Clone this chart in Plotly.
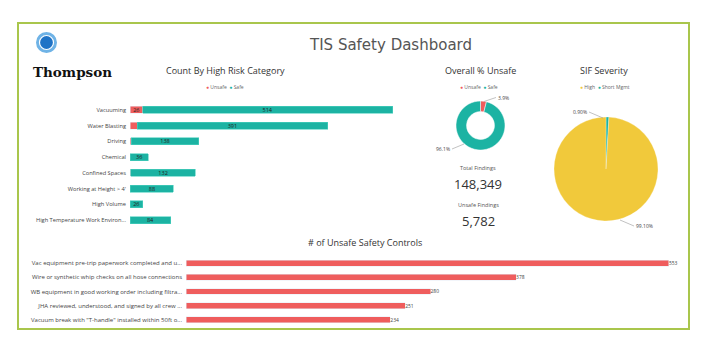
import plotly.graph_objects as go

W, H = 710, 355
OFF = 8  # default page body margin
def X(px): return (px - OFF) / W
def Y(py): return 1 - (py - OFF) / H

# ---------------- data ----------------
risk_categories = ["Vacuuming", "Water Blasting", "Driving", "Chemical", "Confined Spaces",
                   "Working at Height > 4'", "High Volume", "High Temperature Work Environ..."]
risk_unsafe = [26, 15, 3, 1, 2, 1, 0, 0]
risk_safe = [514, 391, 138, 36, 132, 88, 26, 84]

overall_labels = ["Unsafe", "Safe"]
total_findings = 148349
unsafe_findings = 5782
overall_values = [unsafe_findings, total_findings - unsafe_findings]

sif_labels = ["Short Mgmt", "High"]
sif_values = [0.90, 99.10]

control_categories = ["Vac equipment pre-trip paperwork completed and u...",
                      "Wire or synthetic whip checks on all hose connections",
                      "WB equipment in good working order including filtra...",
                      "JHA reviewed, understood, and signed by all crew ...",
                      "Vacuum break with \"T-handle\" installed within 50ft o..."]
control_counts = [553, 378, 280, 251, 234]

RED = "#ef5d5d"
TEAL = "#1cb3a3"
YELLOW = "#f1c93b"
FONT = "Open Sans"

fig = go.Figure()

# ---------------- top stacked bars ----------------
fig.add_trace(go.Bar(
    y=risk_categories, x=risk_unsafe, orientation="h", name="Unsafe",
    marker=dict(color=RED), width=0.45,
    text=[str(v) if v >= 20 else "" for v in risk_unsafe],
    textposition="inside", insidetextanchor="middle", constraintext="none", textangle=0,
    textfont=dict(size=5.5, color="#222", family=FONT),
    xaxis="x", yaxis="y", showlegend=False, hoverinfo="x+y"))
fig.add_trace(go.Bar(
    y=risk_categories, x=risk_safe, orientation="h", name="Safe",
    marker=dict(color=TEAL, line=dict(color="#4fd0c0", width=0.6)), width=0.45,
    text=[str(v) for v in risk_safe],
    textposition="inside", insidetextanchor="middle", constraintext="none", textangle=0,
    textfont=dict(size=5.5, color="#222", family=FONT),
    xaxis="x", yaxis="y", showlegend=False, hoverinfo="x+y"))

# ---------------- bottom bars ----------------
fig.add_trace(go.Bar(
    y=control_categories, x=control_counts, orientation="h",
    marker=dict(color=RED), width=0.42,
    text=[str(v) for v in control_counts], textposition="outside",
    textfont=dict(size=5, color="#444", family=FONT), cliponaxis=False,
    xaxis="x2", yaxis="y2", showlegend=False))

# ---------------- donut ----------------
cx, cy, r = 480.5, 125.5, 24.5
fig.add_trace(go.Pie(
    labels=overall_labels, values=overall_values, hole=0.57, sort=False,
    direction="clockwise", rotation=0, textinfo="none",
    marker=dict(colors=[RED, TEAL], line=dict(color="white", width=0.5)),
    domain=dict(x=[X(cx - r), X(cx + r)], y=[Y(cy + r), Y(cy - r)]),
    showlegend=False))

# ---------------- SIF pie ----------------
sx, sy, sr = 606, 169, 52
fig.add_trace(go.Pie(
    labels=sif_labels, values=sif_values, sort=False,
    direction="counterclockwise", rotation=0, textinfo="none",
    marker=dict(colors=[TEAL, YELLOW], line=dict(color="white", width=0.3)),
    domain=dict(x=[X(sx - sr), X(sx + sr)], y=[Y(sy + sr), Y(sy - sr)]),
    showlegend=False))

ov_pct = [v / sum(overall_values) * 100 for v in overall_values]
sif_pct = [v / sum(sif_values) * 100 for v in sif_values]

annotations = []
def txt(x, y, s, size, color="#444", family=FONT, xanchor="center"):
    annotations.append(dict(x=X(x), y=Y(y), xref="paper", yref="paper", text=s,
                            showarrow=False, xanchor=xanchor, yanchor="middle",
                            font=dict(size=size, color=color, family=family)))

txt(391, 45, "TIS Safety Dashboard", 15, "#555", "DejaVu Sans")
txt(72, 72, "<b>Thompson</b>", 13.5, "#111", "DejaVu Serif")
txt(225, 71, "Count By High Risk Category", 9, "#333")
txt(480, 71, "Overall % Unsafe", 9, "#333")
txt(604, 71, "SIF Severity", 9, "#333")
txt(365, 242, "# of Unsafe Safety Controls", 9, "#333")

leg = lambda items: "  ".join(f"<span style='color:{c}'>●</span> {t}" for t, c in items)
txt(225, 87, leg([("Unsafe", RED), ("Safe", TEAL)]), 5, "#666")
txt(479, 87, leg([("Unsafe", RED), ("Safe", TEAL)]), 5, "#666")
txt(605, 87, leg([("High", YELLOW), (sif_labels[0], TEAL)]), 5, "#666")

txt(478, 168, "Total Findings", 5.5, "#555")
txt(478, 184, f"{total_findings:,}", 13, "#333")
txt(478, 205, "Unsafe Findings", 5.5, "#555")
txt(478, 221, f"{unsafe_findings:,}", 13, "#333")

def lead(px, py, s, ax, ay, xanchor):
    annotations.append(dict(x=X(px), y=Y(py), xref="paper", yref="paper", text=s,
                            showarrow=True, arrowhead=0, arrowwidth=0.6, arrowcolor="#999",
                            ax=ax, ay=ay, xanchor=xanchor, yanchor="middle",
                            font=dict(size=5, color="#444", family=FONT)))

lead(484, 101.5, f"{ov_pct[0]:.1f}%", 12, -4, "left")
lead(464, 144, f"{ov_pct[1]:.1f}%", -12, 5, "right")
lead(603, 118, f"{sif_pct[0]:.2f}%", -14, -6, "right")
lead(620, 220, f"{sif_pct[1]:.2f}%", 14, 6, "left")

shapes = [
    dict(type="rect", xref="paper", yref="paper", x0=X(18), x1=X(689), y0=Y(329), y1=Y(23),
         line=dict(color="#a9c64c", width=2), fillcolor="rgba(0,0,0,0)"),
    dict(type="circle", xref="paper", yref="paper", x0=X(36), x1=X(57), y0=Y(53), y1=Y(32),
         line=dict(width=0), fillcolor="#6fb3e6"),
    dict(type="circle", xref="paper", yref="paper", x0=X(39.5), x1=X(53.5), y0=Y(49.5), y1=Y(35.5),
         line=dict(color="white", width=1.2), fillcolor="#1f73c6"),
]

fig.update_layout(
    width=W, height=H, margin=dict(l=0, r=0, t=0, b=0),
    paper_bgcolor="white", plot_bgcolor="white", barmode="stack",
    font=dict(family=FONT),
    xaxis=dict(domain=[X(130), X(422)], range=[0, 600], visible=False, anchor="y"),
    yaxis=dict(domain=[Y(228), Y(102)], autorange="reversed", anchor="x",
               showgrid=False, showline=False, ticks="", ticklabelstandoff=3,
               tickfont=dict(size=5.7, color="#444", family=FONT)),
    xaxis2=dict(domain=[X(186), X(675)], range=[0, 560], visible=False, anchor="y2"),
    yaxis2=dict(domain=[Y(327), Y(256)], autorange="reversed", anchor="x2",
                showgrid=False, showline=False, ticks="", ticklabelstandoff=3,
                tickfont=dict(size=6, color="#444", family=FONT)),
    annotations=annotations, shapes=shapes,
)

fig.write_html("out.html")
